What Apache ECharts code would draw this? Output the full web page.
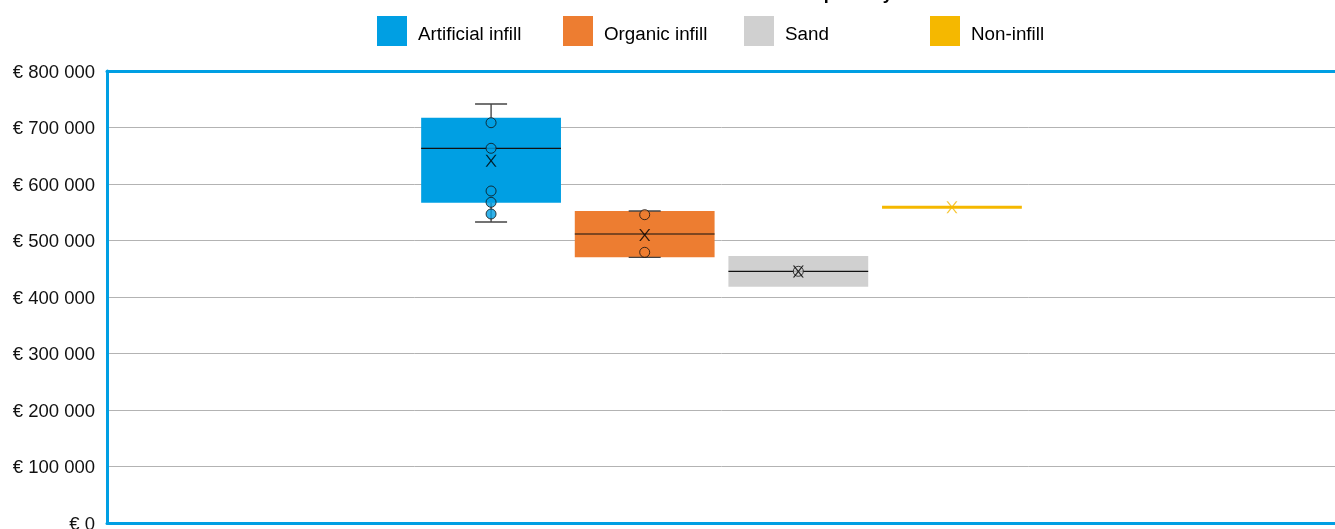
<!DOCTYPE html>
<html>
<head>
<meta charset="utf-8">
<script src="https://cdn.jsdelivr.net/npm/echarts@6/dist/echarts.min.js"></script>
<style>
html,body{margin:0;padding:0;background:#fff;}
#chart{width:1335px;height:529px;}
</style>
</head>
<body>
<div id="chart"></div>
<script>
// ---- data ----
const titleText = 'Total cost of each pitch by infill';
const categories = ['Artificial infill', 'Organic infill', 'Sand', 'Non-infill'];
const minValues    = [532700, 470300, 445500, 558800];
const q1Values     = [566900, 470300, 418200, 558800];
const medianValues = [663200, 511500, 445500, 558800];
const q3Values     = [717400, 552200, 472600, 558800];
const maxValues    = [741600, 552200, 445500, 558800];
const meanValues   = [641300, 509700, 445300, 558800];
const pointsArtificial = [708500, 663200, 587600, 567600, 546900];
const pointsOrganic    = [545700, 479100];
const pointsSand       = [445500];
const pointsNonInfill  = [];
const yTicks = [0, 100000, 200000, 300000, 400000, 500000, 600000, 700000, 800000];

// ---- style ----
const colors = ['#009FE3', '#ED7D31', '#D0D0D0', '#F5B800'];
const meanColors = ['#000', '#000', '#000', '#F5B800'];
const legendLefts = [377, 563, 744, 930];
const FONT = "'Liberation Sans', Arial, Helvetica, sans-serif";
const leadingSlots = 2, slotCount = 8;
const slotLabels = Array.from({length: slotCount}, (_, i) => {
  const k = i - leadingSlots;
  return (k >= 0 && k < categories.length) ? categories[k] : ' ';
});
const pointsList = [pointsArtificial, pointsOrganic, pointsSand, pointsNonInfill];
const xMarker = 'path://M0,0 L1.7,0 L6,5 L10.3,0 L12,0 L6.9,6 L12,12 L10.3,12 L6,7 L1.7,12 L0,12 L5.1,6 Z';

function fmt(v) {
  return '{v|€ ' + String(v).replace(/\B(?=(\d{3})+(?!\d))/g, ' ') + '}';
}

function makeRender(color) {
  return function (params, api) {
    const x = api.value(0);
    const vMin = api.value(1), vQ1 = api.value(2), vMed = api.value(3), vQ3 = api.value(4), vMax = api.value(5);
    const pMin = api.coord([x, vMin]);
    const pQ1 = api.coord([x, vQ1]);
    const pMed = api.coord([x, vMed]);
    const pQ3 = api.coord([x, vQ3]);
    const pMax = api.coord([x, vMax]);
    const cx = pMed[0];
    const bw = api.size([1, 0])[0] * 0.91;
    const capW = 32;
    const children = [];
    let top = pQ3[1], h = pQ1[1] - pQ3[1];
    if (h < 3) { top = pMed[1] - 1.5; h = 3; }
    if (vMax > vQ3) children.push({type: 'line', shape: {x1: cx, y1: pQ3[1], x2: cx, y2: pMax[1]}, style: {stroke: '#000', lineWidth: 1}, z2: 1});
    if (vMin < vQ1) children.push({type: 'line', shape: {x1: cx, y1: pQ1[1], x2: cx, y2: pMin[1]}, style: {stroke: '#000', lineWidth: 1}, z2: 1});
    children.push({type: 'rect', shape: {x: cx - bw / 2, y: top, width: bw, height: h}, style: {fill: color}, z2: 2});
    if (vQ3 > vQ1) children.push({type: 'line', shape: {x1: cx - bw / 2, y1: pMed[1], x2: cx + bw / 2, y2: pMed[1]}, style: {stroke: '#111', lineWidth: 1.2}, z2: 3});
    if (vMax !== vMed) children.push({type: 'line', shape: {x1: cx - capW / 2, y1: pMax[1], x2: cx + capW / 2, y2: pMax[1]}, style: {stroke: '#444', lineWidth: 1.3}, z2: 4});
    if (vMin !== vMed) children.push({type: 'line', shape: {x1: cx - capW / 2, y1: pMin[1], x2: cx + capW / 2, y2: pMin[1]}, style: {stroke: '#444', lineWidth: 1.3}, z2: 4});
    return {type: 'group', children: children};
  };
}

const series = [];
categories.forEach((name, i) => {
  const slot = i + leadingSlots;
  series.push({
    name: name,
    type: 'custom',
    xAxisIndex: 0,
    itemStyle: {color: colors[i]},
    renderItem: makeRender(colors[i]),
    encode: {x: 0, y: [1, 2, 3, 4, 5]},
    data: [[slot, minValues[i], q1Values[i], medianValues[i], q3Values[i], maxValues[i]]],
    z: 2,
    silent: true
  });
  series.push({
    name: name,
    type: 'scatter',
    xAxisIndex: 0,
    symbol: 'circle',
    symbolSize: 10,
    itemStyle: {color: colors[i], borderColor: '#111', borderWidth: 1},
    data: pointsList[i].map(v => [slot, v]),
    z: 3,
    silent: true
  });
  series.push({
    name: name,
    type: 'scatter',
    xAxisIndex: 0,
    symbol: xMarker,
    symbolSize: [11, 12],
    itemStyle: {color: meanColors[i]},
    data: [[slot, meanValues[i]]],
    z: 4,
    silent: true
  });
});

const legends = categories.map((name, i) => ({
  data: [name],
  left: legendLefts[i],
  top: 16,
  padding: 0,
  icon: 'rect',
  itemWidth: 30,
  itemHeight: 30,
  selectedMode: false,
  formatter: '{t|{name}}',
  textStyle: {
    fontFamily: FONT, fontSize: 18.8, color: '#000',
    rich: {t: {fontFamily: FONT, fontSize: 18.8, color: '#000', padding: [8, 0, 0, 6]}}
  }
}));

const chart = echarts.init(document.getElementById('chart'), null, {renderer: 'canvas'});
chart.setOption({
  animation: false,
  backgroundColor: '#fff',
  title: {
    text: titleText,
    left: 662,
    top: -20,
    textStyle: {fontFamily: FONT, fontSize: 18, fontWeight: 'bold', color: '#000'}
  },
  legend: legends,
  grid: {left: 107, right: -1, top: 71, bottom: 6, containLabel: false, outerBoundsMode: 'none'},
  xAxis: [
    {
      type: 'category', data: slotLabels, position: 'bottom',
      axisLine: {show: true, lineStyle: {color: '#009FE3', width: 3}},
      axisTick: {show: false}, axisLabel: {show: false}, splitLine: {show: false}
    },
    {
      type: 'category', data: slotLabels, position: 'top',
      axisLine: {show: true, onZero: false, lineStyle: {color: '#009FE3', width: 3}},
      axisTick: {show: false}, axisLabel: {show: false}, splitLine: {show: false}
    }
  ],
  yAxis: {
    type: 'value',
    min: yTicks[0],
    max: yTicks[yTicks.length - 1],
    interval: yTicks[1] - yTicks[0],
    axisLine: {show: true, lineStyle: {color: '#009FE3', width: 3}},
    axisTick: {show: false},
    axisLabel: {
      fontFamily: FONT, fontSize: 18.5, color: '#111', margin: 12, formatter: fmt,
      rich: {v: {fontFamily: FONT, fontSize: 18.5, color: '#111', padding: [3, 0, 0, 0]}}
    },
    splitLine: {show: true, showMinLine: false, showMaxLine: false, lineStyle: {color: '#B3B3B3', width: 1}}
  },
  series: series
});
</script>
</body>
</html>
